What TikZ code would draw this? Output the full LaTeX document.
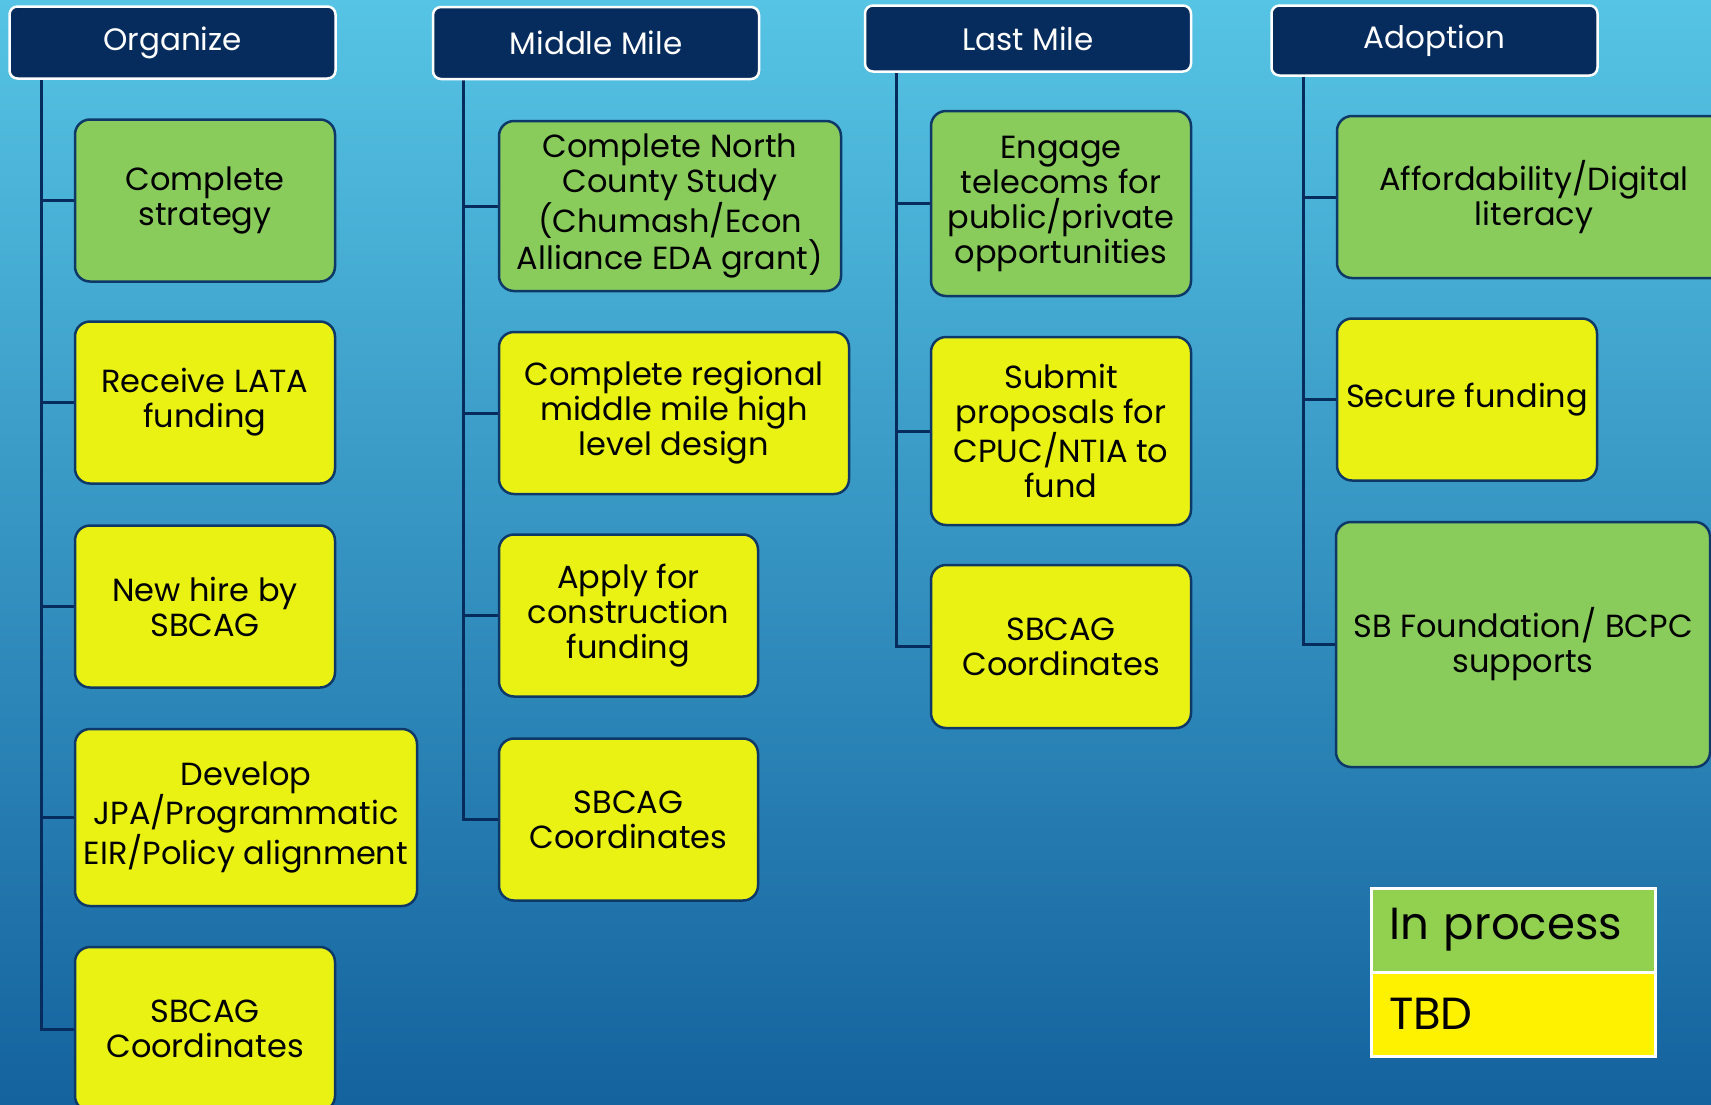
\documentclass[tikz,border=0pt]{standalone}
\usepackage{fontspec}
\setmainfont{Poppins}
\pgfdeclarelayer{bglayer}
\pgfdeclarelayer{edgelayer}
\pgfdeclarelayer{nodelayer}
\pgfsetlayers{bglayer,edgelayer,nodelayer,main}
\definecolor{navy}{RGB}{6,44,94}
\definecolor{boxline}{RGB}{14,56,104}
\definecolor{donegreen}{RGB}{137,204,92}
\definecolor{tbdyellow}{RGB}{234,242,20}
\definecolor{keygreen}{RGB}{146,208,80}
\definecolor{skytop}{RGB}{86,196,228}
\definecolor{skybottom}{RGB}{20,98,158}
\tikzstyle{phase}=[rectangle,rounded corners=8,fill=navy,draw=white,line width=2.5,text=white,font=\fontsize{31}{34}\selectfont,minimum width=326,minimum height=72]
\tikzstyle{task}=[rectangle,rounded corners=15,draw=boxline,line width=2.5,align=center,font=\fontsize{32}{35}\selectfont,minimum width=260,minimum height=162,inner sep=2]
\tikzstyle{inprocess}=[task,fill=donegreen]
\tikzstyle{tbd}=[task,fill=tbdyellow]
\tikzstyle{branch}=[draw=navy,line width=3]
\tikzstyle{legendbox}=[rectangle,draw=white,line width=3,minimum width=284,minimum height=84,inner xsep=18,text width=248,align=left,font=\fontsize{45}{50}\selectfont]

\begin{document}
\begin{tikzpicture}[x=1pt,y=-1pt]
	\useasboundingbox (0,0) rectangle (1711,1104);
	\begin{pgfonlayer}{bglayer}
		\shade [top color=skytop, bottom color=skybottom] (0,0) rectangle (1711,1104);
	\end{pgfonlayer}
	\begin{pgfonlayer}{nodelayer}
		\node [style=phase] (0) at (172.5, 42.5) {Organize};
		\node [style=inprocess] (1) at (205, 200.5) {Complete\\strategy};
		\node [style=tbd] (2) at (205, 402.5) {Receive LATA\\funding};
		\node [style=tbd] (3) at (205, 606.5) {New hire by\\SBCAG};
		\node [style=tbd, minimum width=342, minimum height=177] (4) at (246, 817.5) {Develop\\JPA/Programmatic\\EIR/Policy alignment};
		\node [style=tbd, minimum height=164] (5) at (205, 1029) {SBCAG\\Coordinates};
		\node [style=phase] (6) at (596, 43) {Middle Mile};
		\node [style=inprocess, minimum width=342, minimum height=170] (7) at (670, 206) {Complete North\\County Study\\(Chumash/Econ\\Alliance EDA grant)};
		\node [style=tbd, minimum width=350] (8) at (674, 413) {Complete regional\\middle mile high\\level design};
		\node [style=tbd, minimum width=259] (9) at (628.5, 615.5) {Apply for\\construction\\funding};
		\node [style=tbd, minimum width=259] (10) at (628.5, 819.5) {SBCAG\\Coordinates};
		\node [style=phase, minimum height=66] (11) at (1028, 38.5) {Last Mile};
		\node [style=inprocess, minimum height=185] (12) at (1061, 203.5) {Engage\\telecoms for\\public/private\\opportunities};
		\node [style=tbd, minimum height=188] (13) at (1061, 431) {Submit\\proposals for\\CPUC/NTIA to\\fund};
		\node [style=tbd, minimum height=163] (14) at (1061, 646.5) {SBCAG\\Coordinates};
		\node [style=phase, minimum height=70] (15) at (1434.5, 40.5) {Adoption};
		\node [style=inprocess, minimum width=394] (16) at (1534, 197) {Affordability/Digital\\literacy};
		\node [style=tbd] (17) at (1467, 399.5) {Secure funding};
		\node [style=inprocess, minimum width=374, minimum height=245] (18) at (1523, 644.5) {SB Foundation/ BCPC\\supports};
		\node [style=legendbox, fill=keygreen] (19) at (1513, 930) {In process};
		\node [style=legendbox, fill=yellow] (20) at (1513, 1014) {TBD};
	\end{pgfonlayer}
	\begin{pgfonlayer}{edgelayer}
		\draw [style=branch] ([xshift=33]0.south west) |- (1);
		\draw [style=branch] ([xshift=33]0.south west) |- (2);
		\draw [style=branch] ([xshift=33]0.south west) |- (3);
		\draw [style=branch] ([xshift=33]0.south west) |- (4);
		\draw [style=branch] ([xshift=33]0.south west) |- (5);
		\draw [style=branch] ([xshift=32]6.south west) |- (7);
		\draw [style=branch] ([xshift=32]6.south west) |- (8);
		\draw [style=branch] ([xshift=32]6.south west) |- (9);
		\draw [style=branch] ([xshift=32]6.south west) |- (10);
		\draw [style=branch] ([xshift=33]11.south west) |- (12);
		\draw [style=branch] ([xshift=33]11.south west) |- (13);
		\draw [style=branch] ([xshift=33]11.south west) |- (14);
		\draw [style=branch] ([xshift=33]15.south west) |- (16);
		\draw [style=branch] ([xshift=33]15.south west) |- (17);
		\draw [style=branch] ([xshift=33]15.south west) |- (18);
	\end{pgfonlayer}
\end{tikzpicture}
\end{document}
